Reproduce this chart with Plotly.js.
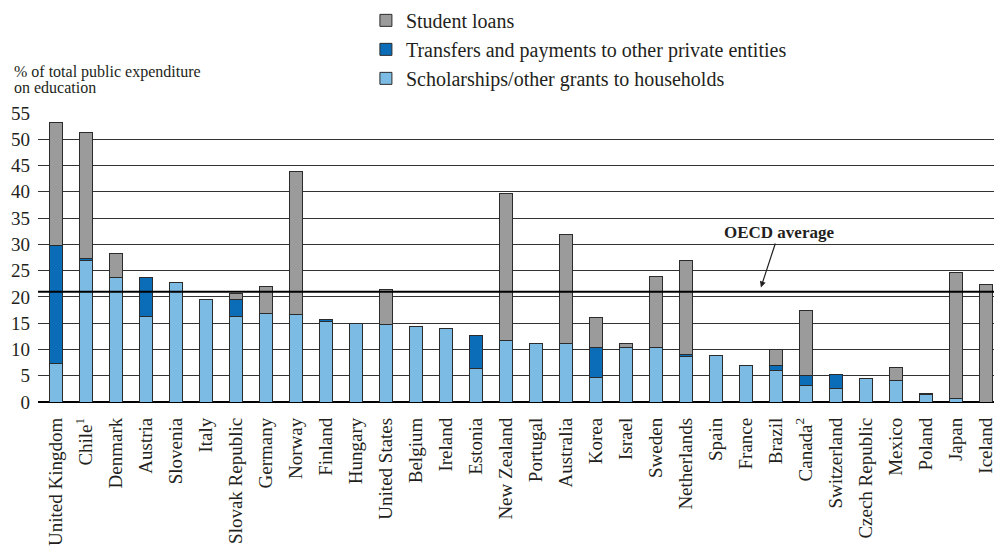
<!DOCTYPE html>
<html>
<head>
<meta charset="utf-8">
<script src="https://cdn.plot.ly/plotly-3.0.1.min.js"></script>
<style>
html, body { margin: 0; padding: 0; background: #fff; overflow: hidden; }
#chart { width: 994px; height: 546px; }
</style>
</head>
<body>
<div id="chart"></div>
<script>
// Data
const countries = ["United Kingdom","Chile","Denmark","Austria","Slovenia","Italy","Slovak Republic","Germany","Norway","Finland","Hungary","United States","Belgium","Ireland","Estonia","New Zealand","Portugal","Australia","Korea","Israel","Sweden","Netherlands","Spain","France","Brazil","Canada","Switzerland","Czech Republic","Mexico","Poland","Japan","Iceland"];
const tickLabels = ["United Kingdom","Chile<sup>1</sup>","Denmark","Austria","Slovenia","Italy","Slovak Republic","Germany","Norway","Finland","Hungary","United States","Belgium","Ireland","Estonia","New Zealand","Portugal","Australia","Korea","Israel","Sweden","Netherlands","Spain","France","Brazil","Canada<sup>2</sup>","Switzerland","Czech Republic","Mexico","Poland","Japan","Iceland"];
const scholarships = [7.4,27.0,23.6,16.3,22.8,19.6,16.3,16.9,16.6,15.3,15.0,14.8,14.3,13.9,6.3,11.7,11.2,11.2,4.6,10.3,10.3,8.7,8.8,7.0,6.0,3.2,2.5,4.4,4.05,1.5,0.6,0];
const transfers = [22.4,0.3,0,7.3,0,0,3.2,0,0,0.4,0,0,0,0,6.4,0,0,0,5.7,0,0,0.3,0,0,1.0,1.9,2.8,0,0,0.2,0,0];
const loans = [23.4,23.9,4.6,0,0,0,1.1,5.1,27.3,0,0,6.6,0,0,0,27.9,0,20.6,5.7,0.9,13.6,17.9,0,0,3.0,12.3,0,0,2.5,0,24.1,22.4];
const oecdAverage = 21.0;
const yTicks = [0,5,10,15,20,25,30,35,40,45,50,55];

const FONT = "Liberation Serif, Times New Roman, serif";
const TXT = "#231f20";
const outline = {color: "#2b2b2b", width: 1};
const barW = 0.42;

const traces = [
  {type: "bar", name: "Scholarships/other grants to households", x: countries, y: scholarships,
   width: barW, marker: {color: "#7cbce4", line: outline}},
  {type: "bar", name: "Transfers and payments to other private entities", x: countries, y: transfers,
   width: barW, marker: {color: "#0b6db7", line: outline}},
  {type: "bar", name: "Student loans", x: countries, y: loans,
   width: barW, marker: {color: "#9b9b9b", line: outline}}
];

const layout = {
  width: 994, height: 546,
  margin: {l: 38, r: 0, t: 113, b: 144, pad: 0},
  paper_bgcolor: "#fff", plot_bgcolor: "#fff",
  barmode: "stack",
  showlegend: true,
  font: {family: FONT, color: TXT, size: 19},
  legend: {
    x: 0.343, xanchor: "left", y: 1.388, yanchor: "top",
    traceorder: "reversed",
    font: {family: FONT, size: 20, color: TXT},
    bgcolor: "rgba(0,0,0,0)"
  },
  xaxis: {
    type: "category",
    range: [-0.6, 31.27],
    tickmode: "array", tickvals: countries, ticktext: tickLabels,
    tickangle: -90,
    ticklabelstandoff: 11,
    tickfont: {family: FONT, size: 19, color: TXT},
    showgrid: false, showline: false, zeroline: false, ticks: "",
    fixedrange: true
  },
  yaxis: {
    range: [0, 55],
    tickmode: "array", tickvals: yTicks,
    ticklabelstandoff: 7,
    tickfont: {family: FONT, size: 19, color: TXT},
    showgrid: true, gridcolor: "#333333", gridwidth: 1,
    zeroline: true, zerolinecolor: "#000", zerolinewidth: 1.6,
    showline: false, ticks: "",
    fixedrange: true
  },
  shapes: [
    {type: "line", xref: "paper", x0: 0, x1: 1, yref: "y", y0: oecdAverage, y1: oecdAverage,
     line: {color: "#000", width: 2}}
  ],
  annotations: [
    {xref: "paper", yref: "paper", x: -0.027, y: 1.142, xanchor: "left", yanchor: "middle",
     text: "% of total public expenditure", showarrow: false,
     font: {family: FONT, size: 16, color: TXT}},
    {xref: "paper", yref: "paper", x: -0.027, y: 1.087, xanchor: "left", yanchor: "middle",
     text: "on education", showarrow: false,
     font: {family: FONT, size: 16, color: TXT}},
    {xref: "x", yref: "y", x: 23.5, y: oecdAverage + 0.8,
     text: "<b>OECD average</b>", showarrow: true,
     ax: 18, ay: -55, arrowhead: 2, arrowsize: 1, arrowwidth: 1.2, arrowcolor: "#231f20",
     font: {family: FONT, size: 17, color: TXT}}
  ]
};

Plotly.newPlot("chart", traces, layout, {staticPlot: true, displayModeBar: false});
</script>
</body>
</html>
